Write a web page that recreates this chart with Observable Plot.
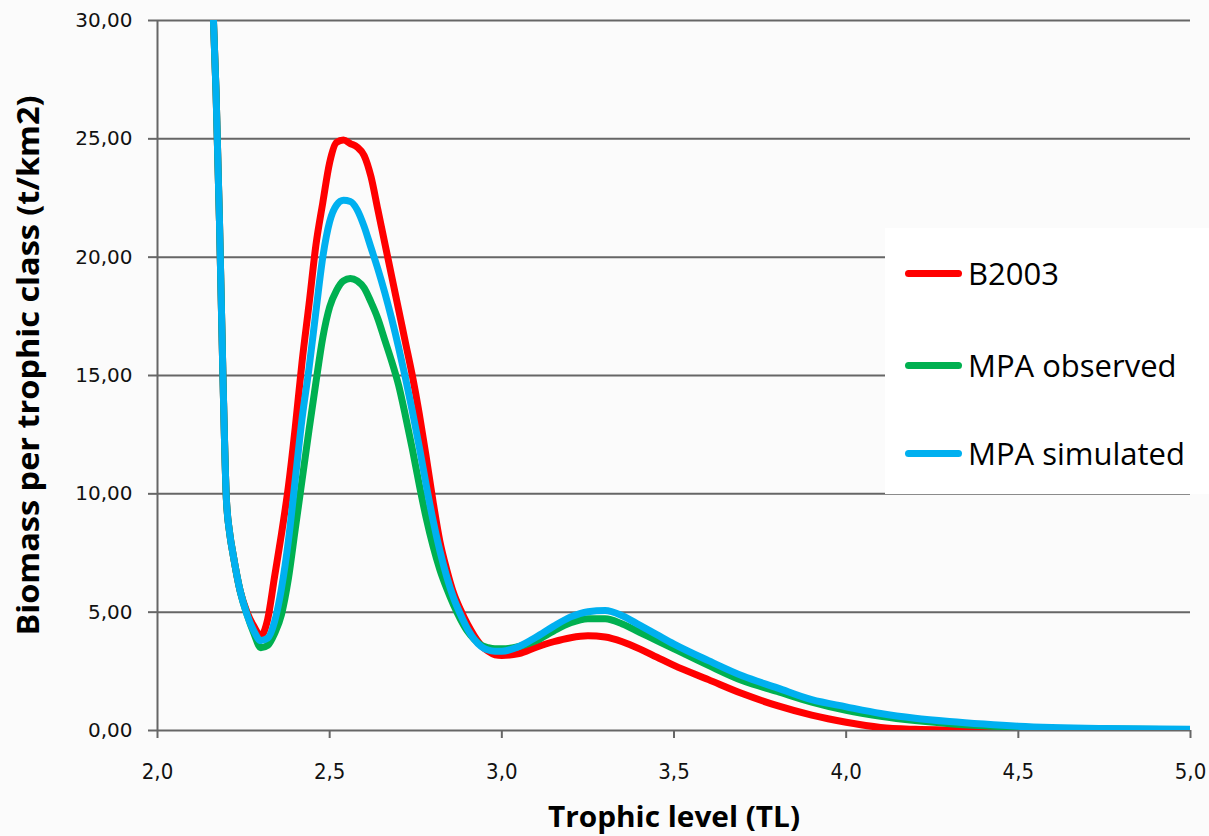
<!DOCTYPE html>
<html>
<head>
<meta charset="utf-8">
<script src="https://cdn.jsdelivr.net/npm/d3@7"></script>
<script src="https://cdn.jsdelivr.net/npm/@observablehq/plot@0.6"></script>
<style>
  html, body { margin: 0; padding: 0; background: #fbfbfb; }
  #wrap { position: relative; width: 1209px; height: 836px; }
  #legend { position: absolute; left: 885px; top: 228px; width: 324px; height: 266px; background: #ffffff; font-family: "Open Sans", sans-serif; font-size: 31px; color: #000; }
  .entry { position: absolute; left: 20px; height: 40px; display: flex; align-items: center; }
  .swatch { width: 57px; height: 7px; border-radius: 4px; margin-right: 6px; }
</style>
</head>
<body>
<div id="wrap"></div>
<script>
const tl = [2.16,2.17,2.18,2.19,2.20,2.21,2.22,
  2.24,2.26,2.28,2.30,2.32,2.34,2.36,2.38,2.40,2.42,2.44,2.46,2.48,2.50,2.52,2.54,2.56,2.58,2.60,2.62,2.64,2.66,2.68,2.70,2.72,2.74,2.76,2.78,2.80,2.82,2.84,2.86,2.88,2.90,2.92,2.94,2.96,2.98,3.00,
  3.05,3.10,3.15,3.20,3.25,3.30,3.35,3.40,3.45,3.50,
  3.60,3.70,3.80,3.90,4.00,4.10,4.20,4.30,4.40,4.50,4.75,5.00];

const b2003 = [31,27,21.5,15,9.8,8.3,7.4,
  5.9,5.0,4.4,4.0,4.7,6.5,8.3,10.3,12.8,15.6,18.0,20.5,22.3,24.0,24.85,24.95,24.8,24.65,24.3,23.4,22.0,20.6,19.2,17.8,16.4,15.0,13.4,11.6,9.7,8.0,6.8,5.8,5.1,4.5,4.0,3.6,3.35,3.2,3.17,
  3.25,3.52,3.75,3.92,4.0,3.95,3.75,3.45,3.1,2.75,
  2.15,1.55,1.05,0.65,0.35,0.13,0.05,0.02,0.01,0.0,0.0,0.0];

const mpaObserved = [31,27,21.5,15,9.8,8.3,7.4,
  5.9,4.9,4.1,3.5,3.6,4.1,4.9,6.4,8.5,10.6,12.7,14.7,16.6,17.9,18.6,19.0,19.1,19.0,18.7,18.1,17.4,16.5,15.6,14.6,13.3,11.9,10.4,9.0,7.8,6.8,6.0,5.3,4.7,4.2,3.85,3.6,3.5,3.45,3.45,
  3.55,3.8,4.2,4.55,4.72,4.72,4.5,4.15,3.8,3.45,
  2.75,2.1,1.65,1.2,0.85,0.6,0.42,0.29,0.2,0.13,0.06,0.03];

const mpaSimulated = [31,27,21.5,15,9.8,8.3,7.4,
  5.9,4.9,4.2,3.8,3.9,4.6,6.0,8.0,10.6,13.2,15.3,17.7,20.0,21.5,22.2,22.4,22.35,22.0,21.3,20.4,19.5,18.5,17.4,16.2,14.9,13.5,12.0,10.4,8.9,7.6,6.5,5.6,4.9,4.3,3.85,3.55,3.4,3.35,3.35,
  3.55,3.95,4.4,4.8,5.02,5.07,4.85,4.45,4.05,3.65,
  2.95,2.3,1.8,1.3,1.0,0.72,0.52,0.38,0.27,0.18,0.08,0.05];

const seriesNames = ["B2003", "MPA observed", "MPA simulated"];
const seriesColors = ["#ff0000", "#00b050", "#00b0f0"];
const seriesValues = [b2003, mpaObserved, mpaSimulated];

const yTicks = [0, 5, 10, 15, 20, 25, 30];
const xTicks = [2.0, 2.5, 3.0, 3.5, 4.0, 4.5, 5.0];
const yTitle = "Biomass per trophic class (t/km2)";
const xTitle = "Trophic level (TL)";

const rows = seriesNames.flatMap((name, i) => tl.map((x, j) => ({series: name, tl: x, biomass: seriesValues[i][j]})));

const chart = Plot.plot({
  width: 1209,
  height: 836,
  marginLeft: 157,
  marginRight: 19,
  marginTop: 20,
  marginBottom: 106,
  style: {background: "transparent", overflow: "visible"},
  x: {domain: [2, 5]},
  y: {domain: [0, 30]},
  color: {domain: seriesNames, range: seriesColors},
  marks: [
    Plot.gridY(yTicks, {stroke: "#666", strokeOpacity: 1, strokeWidth: 2}),
    Plot.ruleX([2], {stroke: "#666", strokeWidth: 2}),
    Plot.axisY(yTicks, {tickSize: 9, tickPadding: 16, tickFormat: d => d.toFixed(2).replace(".", ","), stroke: "#666", strokeWidth: 2, fill: "#111", label: yTitle, labelAnchor: "center", labelArrow: "none", labelOffset: 140}),
    Plot.axisX(xTicks, {tickSize: 8, tickPadding: 25, tickFormat: d => d.toFixed(1).replace(".", ","), stroke: "#666", strokeWidth: 2, fill: "#111", label: xTitle, labelAnchor: "center", labelArrow: "none", labelOffset: 96}),
    Plot.lineY(rows, {x: "tl", y: "biomass", z: "series", stroke: "series", strokeWidth: 7, curve: "monotone-x", clip: true, strokeLinejoin: "round"})
  ]
});

const svg = d3.select(chart);
// tick label fonts (any axis text group other than the title)
svg.selectAll("g").each(function() {
  const a = this.getAttribute("aria-label") || "";
  if (a.startsWith("y-axis") && a !== "y-axis label") {
    d3.select(this).selectAll("text").style("font-family", "'DejaVu Sans'").style("font-size", "20px");
  }
  if (a.startsWith("x-axis") && a !== "x-axis label") {
    d3.select(this).selectAll("text").style("font-family", "'DejaVu Sans Condensed'").style("font-size", "22px");
  }
});
// axis titles
svg.selectAll('g[aria-label="y-axis label"] text')
  .style("font-family", "'Open Sans'").style("font-weight", 700).style("font-size", "30px").attr("fill", "#000")
  .attr("textLength", 540).attr("lengthAdjust", "spacingAndGlyphs")
  .attr("transform", function() { return (this.getAttribute("transform") || "") + " translate(10,0)"; });
svg.selectAll('g[aria-label="x-axis label"] text')
  .style("font-family", "'Open Sans'").style("font-weight", 700).style("font-size", "28px").attr("fill", "#000")
  .attr("textLength", 252).attr("lengthAdjust", "spacingAndGlyphs");

const wrap = document.getElementById("wrap");
wrap.appendChild(chart);

const legend = document.createElement("div");
legend.id = "legend";
const tops = [25, 117, 205];
seriesNames.forEach((name, i) => {
  const e = document.createElement("div");
  e.className = "entry";
  e.style.top = tops[i] + "px";
  const sw = document.createElement("div");
  sw.className = "swatch";
  sw.style.background = seriesColors[i];
  const t = document.createElement("span");
  t.textContent = name;
  e.appendChild(sw); e.appendChild(t);
  legend.appendChild(e);
});
wrap.appendChild(legend);
</script>
</body>
</html>
